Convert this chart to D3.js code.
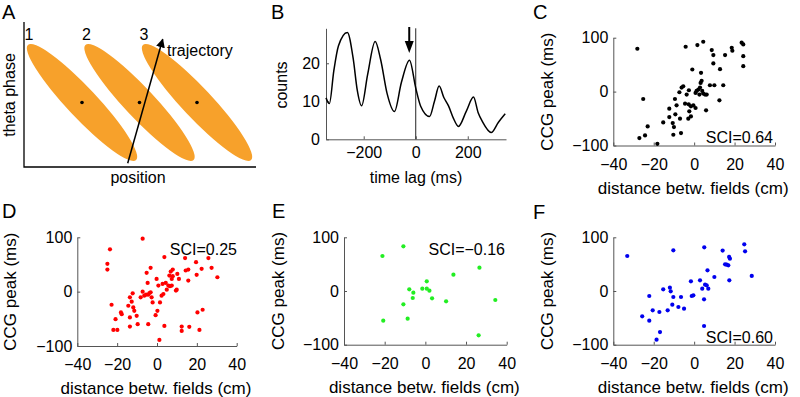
<html>
<head>
  <meta charset="utf-8">
  <script src="https://d3js.org/d3.v7.min.js"></script>
  <style>
    body { margin: 0; background: #fff; }
    text { font-family: "Liberation Sans", Arial, sans-serif; }
  </style>
</head>
<body>
<svg id="fig" width="800" height="397"></svg>
<script>
// ---- data ----
// panel A: schematic place fields (position of field centre, 1..3)
var fieldIds = ["1", "2", "3"];
var fieldCentres = [1, 2, 3];

// panel B: cross-correlogram
var lag =    [-345, -332, -315, -297, -263, -240, -225, -208, -185, -156, -135, -110, -82, -55, -24, 0, 19, 53, 72, 90, 108, 126, 145, 164, 195, 222, 240, 256, 290, 318, 344];
var counts = [10.9, 9.4, 18, 24.6, 28.1, 21, 13, 8.8, 17, 25.7, 21, 12, 7.3, 15, 20.8, 13.5, 8.7, 6.0, 10, 14.0, 11, 8.8, 5.5, 3.4, 7.5, 11.1, 7, 4.7, 1.8, 4.5, 6.7];
var arrowLag = -25;

// panels C-F: distance between fields (cm) vs CCG peak (ms)
var distC = [-28.1, -25.2, -23, -24.3, -27.1, -18.2, -15.3, -12.3, -12.3, -10.6, -10, -10.3, -9.3, -9.5, -8.7, -7, -6.5, -7.3, -6.2, -5.4, -4.2, -4.5, -3.7, -2.6, -2.7, -2.9, -2.4, -1.6, -1.6, -0.9, -0.4, 0.7, 0.7, 1.2, 1.6, 2.1, 2.6, 2.9, 3.2, 3.4, 3.7, 4.0, 4.5, 4.5, 5.4, 5.9, 6.2, 7.8, 8.7, 9.5, 9.5, 10, 12.5, 12.8, 14.4, 15.3, 18.6, 18.9, 23.5, 24.3, 24.3, 24.3];
var peakC = [79.5, -13.7, -64.6, -81.4, -86.3, -96.9, -57.1, -31.7, -47.2, -58.4, -65.8, -80.1, -42.2, -13.7, -25.5, -50.3, -77, -1.2, 7.5, 9.9, 83.2, -22.4, -5.6, 2.5, -23.6, -50.3, -36.6, -27.3, -46, 41, -25.5, -2.5, -30.4, 1.2, 86.3, 3.7, -5.6, 7.5, 16.1, 34.8, 19.9, 1.2, 92.5, -3.7, -5.6, -34.8, -5.6, 11.8, 77, 67.7, 52.2, 11.8, -16.1, 41.6, 11.8, 67.7, 81.4, 75.8, 90.7, 87.6, 65.8, 47.2];

var distD = [-7.2, -23.6, -24.9, -24.9, -22.8, -20.8, -21.9, -19.9, -18.1, -17.7, -14.4, -13.6, -12.7, -12.2, -11.9, -11.4, -13.6, -13.6, -10.2, -9.7, -8.2, -7.2, -6.4, -5.5, -5.2, -4.7, -4.4, -4.4, -3.8, -3.2, -3.2, -2.7, -2.2, -0.7, 0.2, -0.2, 0.7, 1.2, 1.5, 2.3, 2.8, 3.2, 3.7, 3.7, 4.4, 4.9, 5.7, 6.2, 6.5, 6.9, 7.4, 7.4, 7.9, 7.9, 9.5, 9.9, 10.2, 11, 12.4, 12.4, 14.1, 14.4, 15.7, 16.2, 15.7, 19.6, 20.3, 21.3, 19.9, 22.9, 22.4, 25.8, 27.4, 30.3];
var peakD = [97.5, 77.8, 51.2, 40.7, -24.1, -50.6, -70.4, -70.4, -38.3, -41.4, -25.9, -10.5, -18.5, -3.1, -29, -35.2, -47.5, -64.2, -44.4, -59.9, -10.5, 0, -7.4, -5.6, 34.6, 16, -5.6, -59.9, -2.5, 43.8, -1.2, -10.5, -19.8, -43.2, -35.2, 23.5, 11.1, -88.9, -19.8, -7.4, 14.2, -4.3, 63.6, -63, 16, 3.7, 11.1, 29.6, 9.9, 37, 23.5, 11.1, 40.7, 28.4, 1.9, 3.7, 32.7, 23.5, -64.2, -72.2, 61.7, 38.9, 40.7, -64.8, 20.4, 54.3, -38.3, -70.4, 30.9, -33.3, 42, 61.7, 43.8, 26.5];

var distE = [-10.8, -21.1, -20.7, -7.9, -5.9, -6.2, -10.8, -8.7, -1.5, 0.7, 0.7, 2, 3.3, 10.2, 13.8, 26.6, 26.2, 34.4];
var peakE = [83.2, 65.2, -55.3, 3.1, -3.1, -13, -24.8, -51.6, 4.3, 18, 4.3, 0.6, -13.7, -19.3, 30.4, 43.5, -82.6, -16.8];

var distF = [-33.1, -10.3, 5, 14.1, 24.8, 25.2, 15.3, 16.1, 16.9, 17.3, 17.7, 17.4, 28.5, 10, 6.6, 2.9, -1.6, 4, 5.4, 6.2, 7, -1.2, -0.4, 4.9, 4.9, -15.3, -12, -11.6, -10.3, -6.5, -10.8, -7.8, -5, -13.1, -17.2, -20.5, -22.2, -22.2, -25.7, -16.9, -18.6];
var peakF = [65.2, 75.8, 81.4, 75.2, 87, 73.9, 49.7, 49.1, 47.8, 63.4, 60.2, 19.9, 28, 26.1, 38.5, 19.9, 18, 4.3, 11.8, 10.6, 4.3, -9.3, -8.1, -15.5, -65.2, 3.1, 6.2, -0.6, -11.2, -11.2, -25.5, -29.8, -32.9, -36, -39.1, -36, -9.3, -55.3, -47.2, -76.4, -90.7];

var sciLabels = ["SCI=0.64", "SCI=0.25", "SCI=\u22120.16", "SCI=0.60"];
var distTicks = [-40, -20, 0, 20, 40];
var peakTicks = [-100, 0, 100];
var lagTicks = [-200, 0, 200];
var countTicks = [0, 10, 20];

// ---- drawing ----
var svg = d3.select("#fig");
var axisColor = "#555";

function panelLetter(t, x, y) {
  svg.append("text").attr("x", x).attr("y", y).attr("font-size", 20).text(t);
}

function styleAxis(g) {
  g.select(".domain").attr("stroke", axisColor);
  g.selectAll(".tick line").attr("stroke", axisColor);
  g.selectAll(".tick text").attr("font-size", 16).attr("fill", "#000")
    .attr("font-family", "Liberation Sans, Arial, sans-serif");
}

function drawAxes(x, y, xt, yt, xPad, yPad) {
  var y0 = y.range()[0], x0 = x.range()[0];
  svg.append("g").attr("transform", "translate(0," + y0 + ")")
    .call(d3.axisBottom(x).tickValues(xt).tickSizeInner(-3).tickSizeOuter(0).tickPadding(xPad))
    .call(styleAxis);
  svg.append("g").attr("transform", "translate(" + x0 + ",0)")
    .call(d3.axisLeft(y).tickValues(yt).tickSizeInner(-3).tickSizeOuter(0).tickPadding(yPad))
    .call(styleAxis);
}

function yLabel(t, x, cy, size) {
  svg.append("text").attr("transform", "translate(" + x + "," + cy + ") rotate(-90)")
    .attr("text-anchor", "middle").attr("font-size", size || 17).text(t);
}

function xLabel(t, cx, y, size) {
  svg.append("text").attr("x", cx).attr("y", y)
    .attr("text-anchor", "middle").attr("font-size", size || 17).text(t);
}

// panel A
(function () {
  var x = d3.scaleLinear().domain([0, 4]).range([24, 256]);
  var xs = d3.scaleLinear().domain([1, 3]).range([82, 197]);
  var ph = d3.scaleLinear().domain([0, 1]).range([167, 22]);
  var g = svg.append("g");
  g.selectAll("ellipse").data(fieldCentres).enter().append("ellipse")
    .attr("transform", d => "translate(" + xs(d) + "," + ph(0.445) + ") rotate(46.8)")
    .attr("rx", 79).attr("ry", 15).attr("fill", "#F7A12B");
  g.selectAll("circle").data(fieldCentres).enter().append("circle")
    .attr("cx", d => xs(d)).attr("cy", ph(0.445)).attr("r", 1.8).attr("fill", "#000");
  g.selectAll("text.fid").data(fieldIds).enter().append("text")
    .attr("x", (d, i) => xs(fieldCentres[i]) - 53).attr("y", 40)
    .attr("text-anchor", "middle").attr("font-size", 16).text(d => d);
  // axes (no ticks)
  g.append("path").attr("d", "M" + x(0) + "," + ph(1) + "V" + ph(0) + "H" + x(4))
    .attr("fill", "none").attr("stroke", "#000").attr("stroke-width", 1.3);
  // trajectory arrow
  svg.append("defs").append("marker").attr("id", "ah").attr("viewBox", "0 0 10 10")
    .attr("refX", 9).attr("refY", 5).attr("markerWidth", 9).attr("markerHeight", 9)
    .attr("markerUnits", "userSpaceOnUse").attr("orient", "auto")
    .append("path").attr("d", "M0,0L10,5L0,10Z").attr("fill", "#000");
  g.append("line").attr("x1", 127.7).attr("y1", 163.3).attr("x2", 162.7).attr("y2", 39.3)
    .attr("stroke", "#000").attr("stroke-width", 1.5).attr("marker-end", "url(#ah)");
  g.append("text").attr("x", 167).attr("y", 56).attr("font-size", 16).text("trajectory");
  xLabel("position", 138, 183, 16);
  yLabel("theta phase", 15, 95, 16);
  panelLetter("A", 2, 19);
})();

// panel B
(function () {
  var x = d3.scaleLinear().domain([-345, 347]).range([326, 506]);
  var y = d3.scaleLinear().domain([0, 29.2]).range([139.3, 28.3]);
  drawAxes(x, y, lagTicks, countTicks, 7, 6);
  svg.append("line").attr("x1", x(0)).attr("x2", x(0)).attr("y1", y(0)).attr("y2", y(29.2))
    .attr("stroke", "#222").attr("stroke-width", 1);
  var line = d3.line().x((d, i) => x(lag[i])).y(d => y(d)).curve(d3.curveMonotoneX);
  svg.append("path").datum(counts).attr("d", line)
    .attr("fill", "none").attr("stroke", "#000").attr("stroke-width", 1.5);
  // arrow marking the peak
  var ax = x(arrowLag);
  svg.append("line").attr("x1", ax).attr("x2", ax).attr("y1", 27).attr("y2", 44)
    .attr("stroke", "#000").attr("stroke-width", 2);
  svg.append("path").attr("d", "M" + (ax - 4.5) + ",41L" + (ax + 4.5) + ",41L" + ax + ",53Z").attr("fill", "#000");
  yLabel("counts", 287, 85, 16);
  xLabel("time lag (ms)", 416, 183, 16);
  panelLetter("B", 271, 19);
})();

// scatter panels C-F
function scatter(dist, peak, color, x0, x1, yTop, yBot, sci, sciX, sciY, ylabX, letter, lx, ly) {
  var x = d3.scaleLinear().domain([-40, 40]).range([x0, x1]);
  var y = d3.scaleLinear().domain([-100, 100]).range([yBot, yTop]);
  drawAxes(x, y, distTicks, peakTicks, 13, 5);
  svg.append("g").selectAll("circle").data(dist).enter().append("circle")
    .attr("cx", d => x(d)).attr("cy", (d, i) => y(peak[i])).attr("r", 2.1).attr("fill", color);
  svg.append("text").attr("x", sciX).attr("y", sciY).attr("text-anchor", "end")
    .attr("font-size", 16).text(sci);
  yLabel("CCG peak (ms)", ylabX, (yTop + yBot) / 2);
  xLabel("distance betw. fields (cm)", (x0 + x1) / 2 - 1, yBot + 48);
  panelLetter(letter, lx, ly);
}

scatter(distC, peakC, "#000", 613.3, 775, 37.7, 145.5, sciLabels[0], 773, 143, 553, "C", 533, 19);
scatter(distD, peakD, "#f00", 77.3, 236.7, 237.3, 346, sciLabels[1], 237, 255, 16, "D", 2, 218);
scatter(distE, peakE, "#2e2", 344, 506.7, 237.3, 344.7, sciLabels[2], 505, 255, 284, "E", 272, 218);
scatter(distF, peakF, "#00e", 613.3, 775, 237.3, 344.7, sciLabels[3], 773, 343, 553, "F", 533, 219);
</script>
</body>
</html>
